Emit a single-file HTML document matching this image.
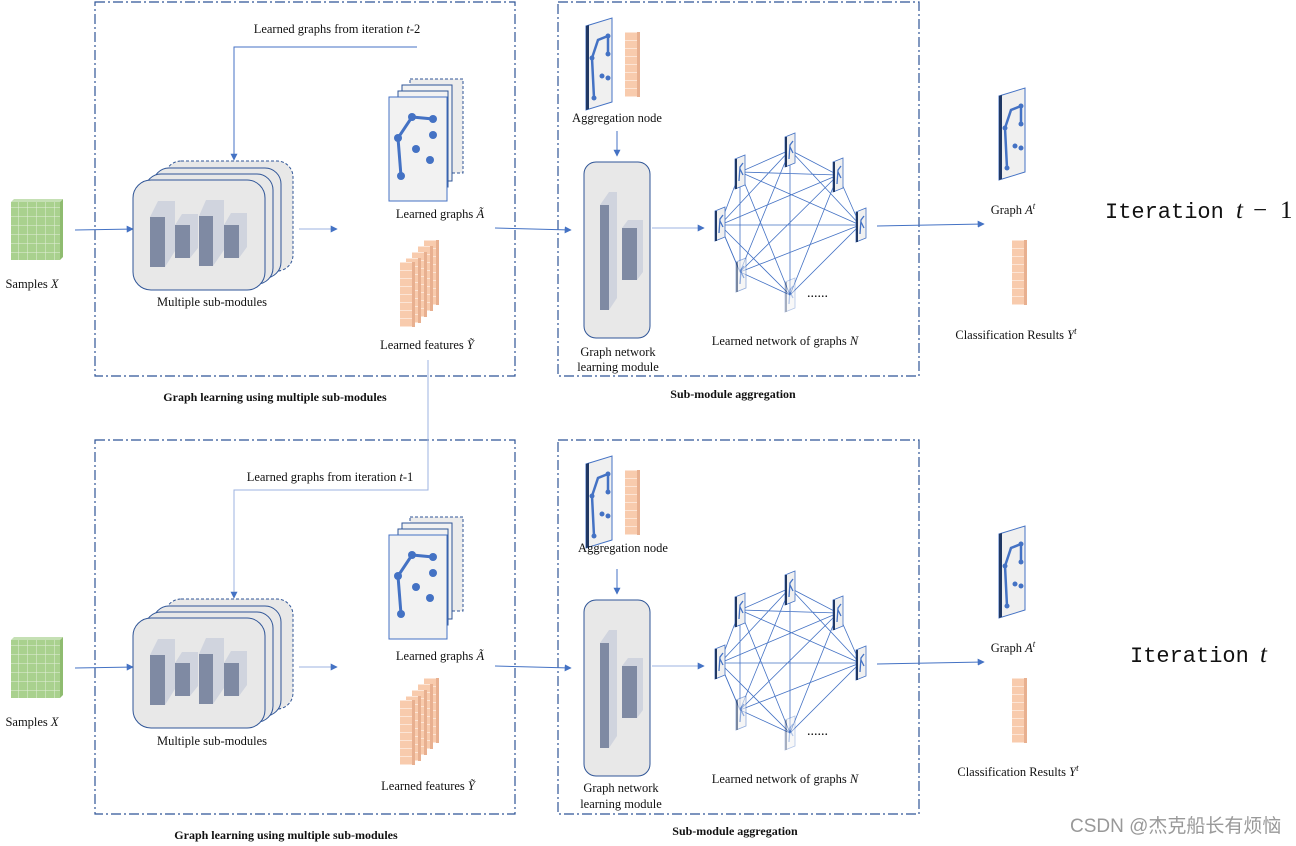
<!DOCTYPE html>
<html><head><meta charset="utf-8"><style>
html,body{margin:0;padding:0;background:#fff;}
svg{display:block;font-family:"Liberation Serif",serif;}
</style></head><body>
<svg width="1296" height="846" viewBox="0 0 1296 846" xmlns="http://www.w3.org/2000/svg">
<defs>
<marker id="ar" viewBox="0 0 10 10" refX="9" refY="5" markerWidth="7" markerHeight="7" orient="auto"><path d="M0,0 L10,5 L0,10 z" fill="#4472c4"/></marker>
<pattern id="grn" width="9" height="9" patternUnits="userSpaceOnUse"><rect width="9" height="9" fill="#a9d18e"/><path d="M0,0H9M0,0V9" stroke="#e2f0d9" stroke-width="1"/></pattern>
<pattern id="org" width="12" height="8" patternUnits="userSpaceOnUse"><rect width="12" height="8" fill="#f8cbad"/><path d="M0,0H12" stroke="#fff" stroke-width="1"/></pattern>
<g id="feat">
 <rect x="0" y="0" width="12" height="65" fill="url(#org)"/><rect x="12" y="0" width="3" height="65" fill="#e8b090"/>
</g>
<g id="pg">
 <polygon points="0,8 26,0 26,84 0,92" fill="#f0f0f0" stroke="#4472c4" stroke-width="1"/>
 <polygon points="0,8 3,7 3,91 0,92" fill="#203864"/>
 <polyline points="8,80 6,40 12,22 22,18 22,36 M12,22 16,58 22,60 22,36" fill="none" stroke="#4472c4" stroke-width="2.5"/>
 <circle cx="8" cy="80" r="2.5" fill="#4472c4"/><circle cx="6" cy="40" r="2.5" fill="#4472c4"/><circle cx="22" cy="18" r="2.5" fill="#4472c4"/><circle cx="22" cy="60" r="2.5" fill="#4472c4"/><circle cx="22" cy="36" r="2.5" fill="#4472c4"/><circle cx="16" cy="58" r="2.5" fill="#4472c4"/>
</g>
<g id="mini">
 <polygon points="0,4 10,0 10,30 0,34" fill="#f0f0f0" stroke="#4472c4" stroke-width="0.8"/>
 <rect x="0" y="4" width="2" height="30" fill="#203864"/>
 <path d="M4,26 5,12 8,8 M5,14 8,20" stroke="#4472c4" stroke-width="1.3" fill="none"/>
</g>
<g id="row">
 <rect x="95" y="2" width="420" height="374" fill="none" stroke="#2f5597" stroke-width="1.2" stroke-dasharray="10,3,2,3"/>
 <rect x="558" y="2" width="361" height="374" fill="none" stroke="#2f5597" stroke-width="1.2" stroke-dasharray="10,3,2,3"/>
 <rect x="11" y="202" width="49" height="58" fill="url(#grn)"/>
 <polygon points="11,202 14,199 63,199 60,202" fill="#c5e0b4"/>
 <polygon points="60,202 63,199 63,257 60,260" fill="#8fbc70"/>
 <line x1="75" y1="230" x2="133" y2="229" stroke="#4472c4" marker-end="url(#ar)"/>
 <rect x="165" y="161" width="128" height="110" rx="16" fill="#e8e8e8" stroke="#2f5597" stroke-dasharray="3,2"/>
 <rect x="153" y="168" width="128" height="110" rx="16" fill="#e8e8e8" stroke="#2f5597"/>
 <rect x="145" y="174" width="128" height="110" rx="16" fill="#e8e8e8" stroke="#2f5597"/>
 <rect x="133" y="180" width="132" height="110" rx="18" fill="#e8e8e8" stroke="#2f5597"/>
 <polygon points="150,217 158,201 175,201 175,251 165,267 165,217" fill="#d0d4de"/><rect x="150" y="217" width="15" height="50" fill="#7f8aa3"/>
 <polygon points="175,225 182,214 198,214 198,248 190,258 190,225" fill="#d0d4de"/><rect x="175" y="225" width="15" height="33" fill="#7f8aa3"/>
 <polygon points="199,216 206,200 224,200 224,250 213,266 213,216" fill="#d0d4de"/><rect x="199" y="216" width="14" height="50" fill="#7f8aa3"/>
 <polygon points="224,225 231,213 247,213 247,247 239,258 239,225" fill="#d0d4de"/><rect x="224" y="225" width="15" height="33" fill="#7f8aa3"/>
 <line x1="299" y1="229" x2="337" y2="229" stroke="#9db3e0" marker-end="url(#ar)"/>
 <rect x="410" y="79" width="53" height="94" fill="#ececec" stroke="#2f5597" stroke-dasharray="3,2"/>
 <rect x="402" y="85" width="50" height="96" fill="#f2f2f2" stroke="#2f5597"/>
 <rect x="398" y="91" width="50" height="96" fill="#f2f2f2" stroke="#2f5597"/>
 <rect x="389" y="97" width="58" height="104" fill="#f2f2f2" stroke="#4472c4"/>
 <polyline points="401,176 398,138 412,117 433,119 M412,117 416,149 430,160 M416,149 433,135" fill="none" stroke="#4472c4" stroke-width="3"/>
 <g fill="#4472c4"><circle cx="401" cy="176" r="4"/><circle cx="398" cy="138" r="4"/><circle cx="412" cy="117" r="4"/><circle cx="433" cy="119" r="4"/><circle cx="416" cy="149" r="4"/><circle cx="430" cy="160" r="4"/><circle cx="433" cy="135" r="4"/></g>
 <use href="#feat" x="424" y="240"/><use href="#feat" x="418" y="246"/><use href="#feat" x="412" y="252"/><use href="#feat" x="406" y="258"/><use href="#feat" x="400" y="262"/>
 <line x1="495" y1="228" x2="571" y2="230" stroke="#4472c4" marker-end="url(#ar)"/>
 <use href="#pg" x="586" y="18"/>
 <use href="#feat" x="625" y="32"/>
 <line x1="617" y1="131" x2="617" y2="156" stroke="#4472c4" marker-end="url(#ar)"/>
 <rect x="584" y="162" width="66" height="176" rx="12" fill="#e8e8e8" stroke="#2f5597"/>
 <polygon points="600,205 609,192 617,192 617,298 609,310 609,205" fill="#d0d4de"/><rect x="600" y="205" width="9" height="105" fill="#7f8aa3"/>
 <polygon points="622,228 628,220 643,220 643,272 637,280 637,228" fill="#d0d4de"/><rect x="622" y="228" width="15" height="52" fill="#7f8aa3"/>
 <line x1="652" y1="228" x2="704" y2="228" stroke="#9db3e0" marker-end="url(#ar)"/>
 <g stroke="#4472c4" stroke-width="0.8" fill="none">
  <path d="M720,225L740,172L790,150L838,175L860,225L790,295L740,272Z" fill="none"/>
  <path d="M720,225L790,150M720,225L838,175M720,225L860,225M720,225L790,295M740,172L838,175M740,172L860,225M740,172L740,272M740,172L790,295M790,150L740,272M790,150L860,225M790,150L790,295M838,175L740,272M838,175L790,295M860,225L740,272M720,225L740,272" fill="none"/>
 </g>
 <use href="#mini" x="735" y="155"/><use href="#mini" x="785" y="133"/><use href="#mini" x="833" y="158"/><use href="#mini" x="715" y="207"/><use href="#mini" x="856" y="208"/><use href="#mini" x="736" y="258" opacity="0.6"/><use href="#mini" x="785" y="278" opacity="0.4"/>
 <text x="807" y="297" font-size="14">......</text>
 <line x1="877" y1="226" x2="984" y2="224" stroke="#4472c4" marker-end="url(#ar)"/>
 <use href="#pg" x="999" y="88"/>
 <use href="#feat" x="1012" y="240"/>
</g>
</defs>
<use href="#row"/>
<use href="#row" y="438"/>
<polyline points="428,360 428,490 234,490 234,598" fill="none" stroke="#9db3e0" marker-end="url(#ar)"/>
<polyline points="417,47 234,47 234,160" fill="none" stroke="#4472c4" marker-end="url(#ar)"/>
<g font-size="12.5" text-anchor="middle" fill="#111">
<text x="337" y="33">Learned graphs from iteration <tspan font-style="italic">t</tspan>-2</text>
<text x="330" y="481">Learned graphs from iteration <tspan font-style="italic">t</tspan>-1</text>
<text x="32" y="288">Samples <tspan font-style="italic">X</tspan></text>
<text x="32" y="726">Samples <tspan font-style="italic">X</tspan></text>
<text x="212" y="306">Multiple sub-modules</text>
<text x="212" y="745">Multiple sub-modules</text>
<text x="440" y="218">Learned graphs <tspan font-style="italic">Ã</tspan></text>
<text x="440" y="660">Learned graphs <tspan font-style="italic">Ã</tspan></text>
<text x="427" y="349">Learned features <tspan font-style="italic">Ỹ</tspan></text>
<text x="428" y="790">Learned features <tspan font-style="italic">Ỹ</tspan></text>
<text x="617" y="122">Aggregation node</text>
<text x="623" y="552">Aggregation node</text>
<text x="618" y="356">Graph network</text><text x="618" y="371">learning module</text>
<text x="621" y="792">Graph network</text><text x="621" y="808">learning module</text>
<text x="785" y="345">Learned network of graphs <tspan font-style="italic">N</tspan></text>
<text x="785" y="783">Learned network of graphs <tspan font-style="italic">N</tspan></text>
<text x="1013" y="214">Graph <tspan font-style="italic">A</tspan><tspan font-size="9" dy="-5" font-style="italic">t</tspan></text>
<text x="1013" y="652">Graph <tspan font-style="italic">A</tspan><tspan font-size="9" dy="-5" font-style="italic">t</tspan></text>
<text x="1016" y="339">Classification Results <tspan font-style="italic">Y</tspan><tspan font-size="9" dy="-5" font-style="italic">t</tspan></text>
<text x="1018" y="776">Classification Results <tspan font-style="italic">Y</tspan><tspan font-size="9" dy="-5" font-style="italic">t</tspan></text>
<text x="275" y="401" font-weight="bold" font-size="12">Graph learning using multiple sub-modules</text>
<text x="286" y="839" font-weight="bold" font-size="12">Graph learning using multiple sub-modules</text>
<text x="733" y="398" font-weight="bold" font-size="12">Sub-module aggregation</text>
<text x="735" y="835" font-weight="bold" font-size="12">Sub-module aggregation</text>
</g>
<g fill="#111" font-size="22">
<text x="1105" y="218" font-family="Liberation Mono,monospace">Iteration</text>
<text x="1236" y="218" font-size="25" font-style="italic">t</text>
<text x="1253" y="218" font-size="25">−</text>
<text x="1280" y="218" font-size="25">1</text>
<text x="1130" y="662" font-family="Liberation Mono,monospace">Iteration</text>
<text x="1260" y="662" font-size="25" font-style="italic">t</text>
</g>
<text x="1070" y="832" font-family="Liberation Sans,'Noto Sans CJK SC',sans-serif" font-size="19" fill="#999">CSDN @杰克船长有烦恼</text>
</svg>
</body></html>
